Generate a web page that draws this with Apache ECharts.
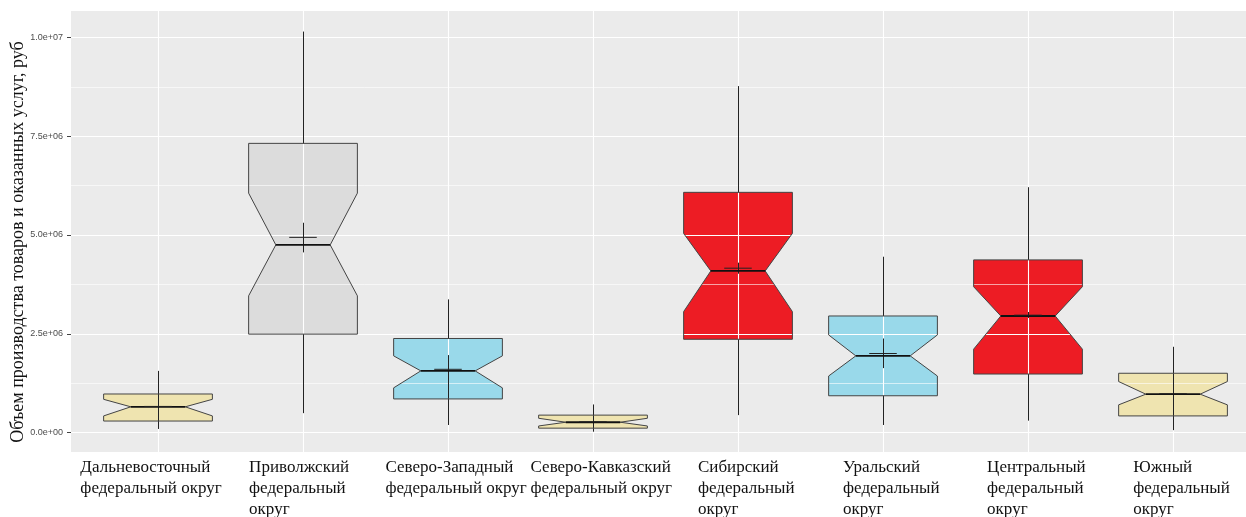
<!DOCTYPE html>
<html>
<head>
<meta charset="utf-8">
<script src="https://cdn.jsdelivr.net/npm/echarts@6/dist/echarts.min.js"></script>
<style>
html, body { margin: 0; padding: 0; background: #fff; }
#main { width: 1246px; height: 517px; }
</style>
</head>
<body>
<div id="main"></div>
<script>
var categories = ['Дальневосточный', 'Приволжский', 'Северо-Западный', 'Северо-Кавказский',
                  'Сибирский', 'Уральский', 'Центральный', 'Южный'];
var labelLines = [
    ['Дальневосточный', 'федеральный округ'],
    ['Приволжский', 'федеральный', 'округ'],
    ['Северо-Западный', 'федеральный округ'],
    ['Северо-Кавказский', 'федеральный округ'],
    ['Сибирский', 'федеральный', 'округ'],
    ['Уральский', 'федеральный', 'округ'],
    ['Центральный', 'федеральный', 'округ'],
    ['Южный', 'федеральный', 'округ']
];

// box statistics, rub
var whiskerLow  = [90000,   490000,   190000,  20000,  440000,  190000,  300000,  60000];
var q1          = [290000,  2490000,  850000,  110000, 2360000, 930000,  1480000, 420000];
var notchLow    = [420000,  3460000,  1130000, 165000, 3060000, 1430000, 2110000, 700000];
var median      = [650000,  4750000,  1560000, 260000, 4090000, 1940000, 2950000, 970000];
var notchHigh   = [840000,  6060000,  1940000, 360000, 5040000, 2470000, 3690000, 1290000];
var q3          = [975000,  7320000,  2380000, 440000, 6080000, 2950000, 4370000, 1500000];
var whiskerHigh = [1560000, 10150000, 3370000, 710000, 8770000, 4450000, 6210000, 2170000];
// mean with its interval (the little cross)
var meanValue   = [660000,  4940000,  1600000, 270000, 4160000, 2000000, 2970000, 980000];
var meanLow     = [290000,  4560000,  850000,  110000, 4020000, 1630000, 2900000, 420000];
var meanHigh    = [975000,  5310000,  1960000, 440000, 4300000, 2380000, 3050000, 1500000];

var fills = ['#EFE4B0', '#DCDCDC', '#99D9EA', '#EFE4B0', '#ED1C24', '#99D9EA', '#ED1C24', '#EFE4B0'];
// small per-label nudges, the hand-placed labels are not quite centred
var labelPad = [[0, 14, 0, 0], [0, 8, 0, 0], [0, 0, 0, 16], [0, 0, 0, 16],
                [0, 0, 0, 16], [0, 0, 0, 16], [0, 0, 0, 16], [0, 0, 0, 16]];

var myChart = echarts.init(document.getElementById('main'));

var boxData = categories.map(function (c, i) {
    return [i + 1, whiskerLow[i], q1[i], notchLow[i], median[i], notchHigh[i], q3[i],
            whiskerHigh[i], meanValue[i], meanLow[i], meanHigh[i], i];
});

function geom(api) {
    var cx = api.coord([api.value(0), 0])[0];
    var half = api.size([0.75, 0])[0] / 2;
    var y = function (k) { return api.coord([api.value(0), api.value(k)])[1]; };
    return {
        cx: cx, lx: Math.round(cx) + 0.5, xl: cx - half, xr: cx + half, inset: half / 2,
        low: y(1), q1: y(2), nLo: y(3), med: y(4), nHi: y(5), q3: y(6), high: y(7),
        mean: y(8), mLo: y(9), mHi: y(10),
        meanHalf: api.size([0.19, 0])[0] / 2
    };
}

function notchPoints(g) {
    return [
        [g.xl, g.q3], [g.xr, g.q3], [g.xr, g.nHi], [g.xr - g.inset, g.med], [g.xr, g.nLo],
        [g.xr, g.q1], [g.xl, g.q1], [g.xl, g.nLo], [g.xl + g.inset, g.med], [g.xl, g.nHi]
    ];
}

function line(x1, y1, x2, y2, color, w) {
    return { type: 'line', shape: { x1: x1, y1: y1, x2: x2, y2: y2 },
             style: { stroke: color, lineWidth: w } };
}

function expLabel(v) {
    var s = Number(v).toExponential(1);
    return s.replace(/e([+-])(\d)$/, 'e$10$2');
}

option = {
    backgroundColor: '#fff',
    animation: false,
    graphic: [{
        type: 'rect', z: -10, silent: true,
        shape: { x: 71, y: 11, width: 1175, height: 441 },
        style: { fill: '#EBEBEB' }
    }],
    grid: [
        { left: 71, right: 0, top: 37.5, bottom: 84.5, containLabel: false, outerBoundsMode: 'none' },
        { left: 85.5, right: 0, top: 11, bottom: 65, containLabel: false, outerBoundsMode: 'none' }
    ],
    xAxis: [
        { gridIndex: 0, type: 'value', min: 0.4, max: 8.5034, show: false },
        {
            gridIndex: 1, type: 'category',
            data: categories.map(function (c, i) {
                return { value: c, textStyle: { padding: labelPad[i] } };
            }),
            axisLine: { show: false },
            axisTick: { alignWithLabel: true, length: 3, lineStyle: { color: '#444' } },
            splitLine: { show: true, alignWithLabel: true, lineStyle: { color: '#fff', width: 1.1 } },
            axisLabel: {
                interval: 0, margin: 5,
                formatter: function (v, i) {
                    return labelLines[i].map(function (l) { return '{a|' + l + '}'; }).join('\n');
                },
                rich: {
                    a: { fontFamily: 'Liberation Serif', fontSize: 17, lineHeight: 21,
                         color: '#111', align: 'left' }
                }
            }
        }
    ],
    yAxis: [
        {
            gridIndex: 0, type: 'value', min: 0, max: 10000000, interval: 2500000,
            name: 'Объем производства товаров и оказанных услуг, руб',
            nameLocation: 'middle', nameGap: 44, nameMoveOverlap: false,
            nameTextStyle: { fontFamily: 'Liberation Serif', fontSize: 18, color: '#111',
                             padding: [0, 14, 0, 0] },
            axisLine: { show: false },
            axisTick: { show: true, length: 4, lineStyle: { color: '#444' } },
            axisLabel: { formatter: expLabel, fontFamily: 'Liberation Sans', fontSize: 9,
                         color: '#4D4D4D', margin: 8 },
            splitLine: { lineStyle: { color: '#fff', width: 1.1 } },
            minorTick: { show: false, splitNumber: 2 },
            minorSplitLine: { show: true, lineStyle: { color: '#fff', width: 0.6 } }
        },
        { gridIndex: 1, type: 'value', min: 0, max: 1, show: false }
    ],
    series: [
        {
            name: 'fill', type: 'custom', xAxisIndex: 0, yAxisIndex: 0, z: -1, silent: true,
            encode: { x: 0, y: [1, 2, 3, 4, 5, 6, 7] },
            data: boxData,
            renderItem: function (params, api) {
                var g = geom(api);
                return { type: 'polygon', shape: { points: notchPoints(g) },
                         style: { fill: fills[api.value(11)], stroke: null } };
            }
        },
        {
            name: 'box', type: 'custom', xAxisIndex: 0, yAxisIndex: 0, z: 3, silent: true,
            encode: { x: 0, y: [1, 2, 3, 4, 5, 6, 7] },
            data: boxData,
            renderItem: function (params, api) {
                var g = geom(api);
                return {
                    type: 'group',
                    children: [
                        line(g.lx, g.q3, g.lx, g.high, '#222', 1),
                        line(g.lx, g.q1, g.lx, g.low, '#222', 1),
                        line(g.lx, g.mLo, g.lx, g.mHi, '#222', 1),
                        { type: 'polygon', shape: { points: notchPoints(g) },
                          style: { fill: null, stroke: '#444', lineWidth: 1 } },
                        line(g.xl + g.inset, g.med, g.xr - g.inset, g.med, '#111', 1.8),
                        line(g.cx - g.meanHalf, g.mean, g.cx + g.meanHalf, g.mean, '#222', 1)
                    ]
                };
            }
        }
    ]
};

myChart.setOption(option);
</script>
</body>
</html>
